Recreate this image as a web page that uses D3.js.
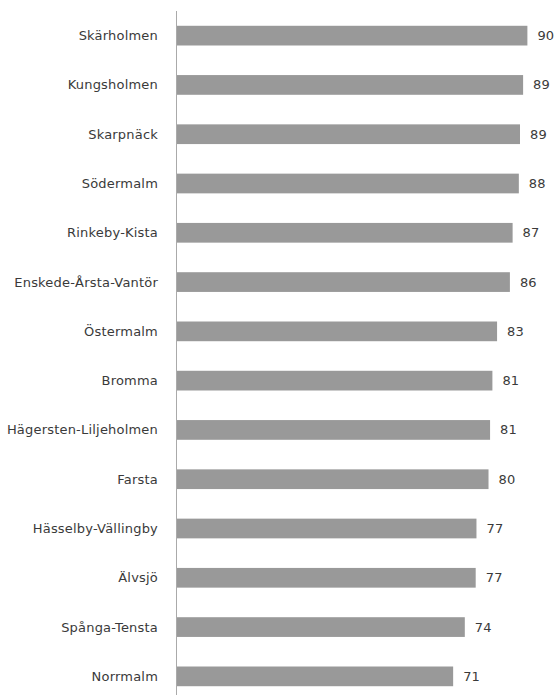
<!DOCTYPE html>
<html>
<head>
<meta charset="utf-8">
<script src="https://cdn.jsdelivr.net/npm/d3@7"></script>
<style>
  body { margin: 0; background: #fff; }
  text { font-family: "DejaVu Sans", sans-serif; letter-spacing: 0.2px; }
</style>
</head>
<body>
<svg width="559" height="695"></svg>
<script>
'use strict';

const districts = [
  'Skärholmen', 'Kungsholmen', 'Skarpnäck', 'Södermalm', 'Rinkeby-Kista',
  'Enskede-Årsta-Vantör', 'Östermalm', 'Bromma', 'Hägersten-Liljeholmen',
  'Farsta', 'Hässelby-Vällingby', 'Älvsjö', 'Spånga-Tensta', 'Norrmalm'
];
// labels show rounded values
const values = [90.4, 89.3, 88.5, 88.2, 86.6, 85.9, 82.6, 81.4, 80.8, 80.4, 77.3, 77.1, 74.3, 71.3];

const svg = d3.select('svg');
const left = 176;

const x = d3.scaleLinear()
    .domain([0, 100])
    .range([left, 564.7]);

const y = d3.scaleBand()
    .domain(districts)
    .range([11, 701])
    .paddingInner(0.6)
    .paddingOuter(0.3);

const rows = districts.map((d, i) => ({name: d, value: values[i]}));

svg.selectAll('rect.bar')
  .data(rows)
  .enter().append('rect')
    .attr('class', 'bar')
    .attr('x', x(0))
    .attr('y', d => y(d.name))
    .attr('width', d => x(d.value) - x(0))
    .attr('height', y.bandwidth())
    .attr('fill', '#999');

svg.selectAll('text.label')
  .data(rows)
  .enter().append('text')
    .attr('class', 'label')
    .attr('x', 158)
    .attr('y', d => y(d.name) + y.bandwidth() / 2)
    .attr('dy', '0.35em')
    .attr('text-anchor', 'end')
    .attr('font-size', 13)
    .attr('fill', '#3a3a3a')
    .text(d => d.name);

svg.selectAll('text.value')
  .data(rows)
  .enter().append('text')
    .attr('class', 'value')
    .attr('x', d => x(d.value) + 10)
    .attr('y', d => y(d.name) + y.bandwidth() / 2)
    .attr('dy', '0.35em')
    .attr('font-size', 13)
    .attr('fill', '#3a3a3a')
    .text(d => Math.round(d.value));

// vertical axis line
svg.append('line')
    .attr('x1', left + 0.5)
    .attr('x2', left + 0.5)
    .attr('y1', 11)
    .attr('y2', 695)
    .attr('stroke', '#aaa')
    .attr('stroke-width', 1);
</script>
</body>
</html>
